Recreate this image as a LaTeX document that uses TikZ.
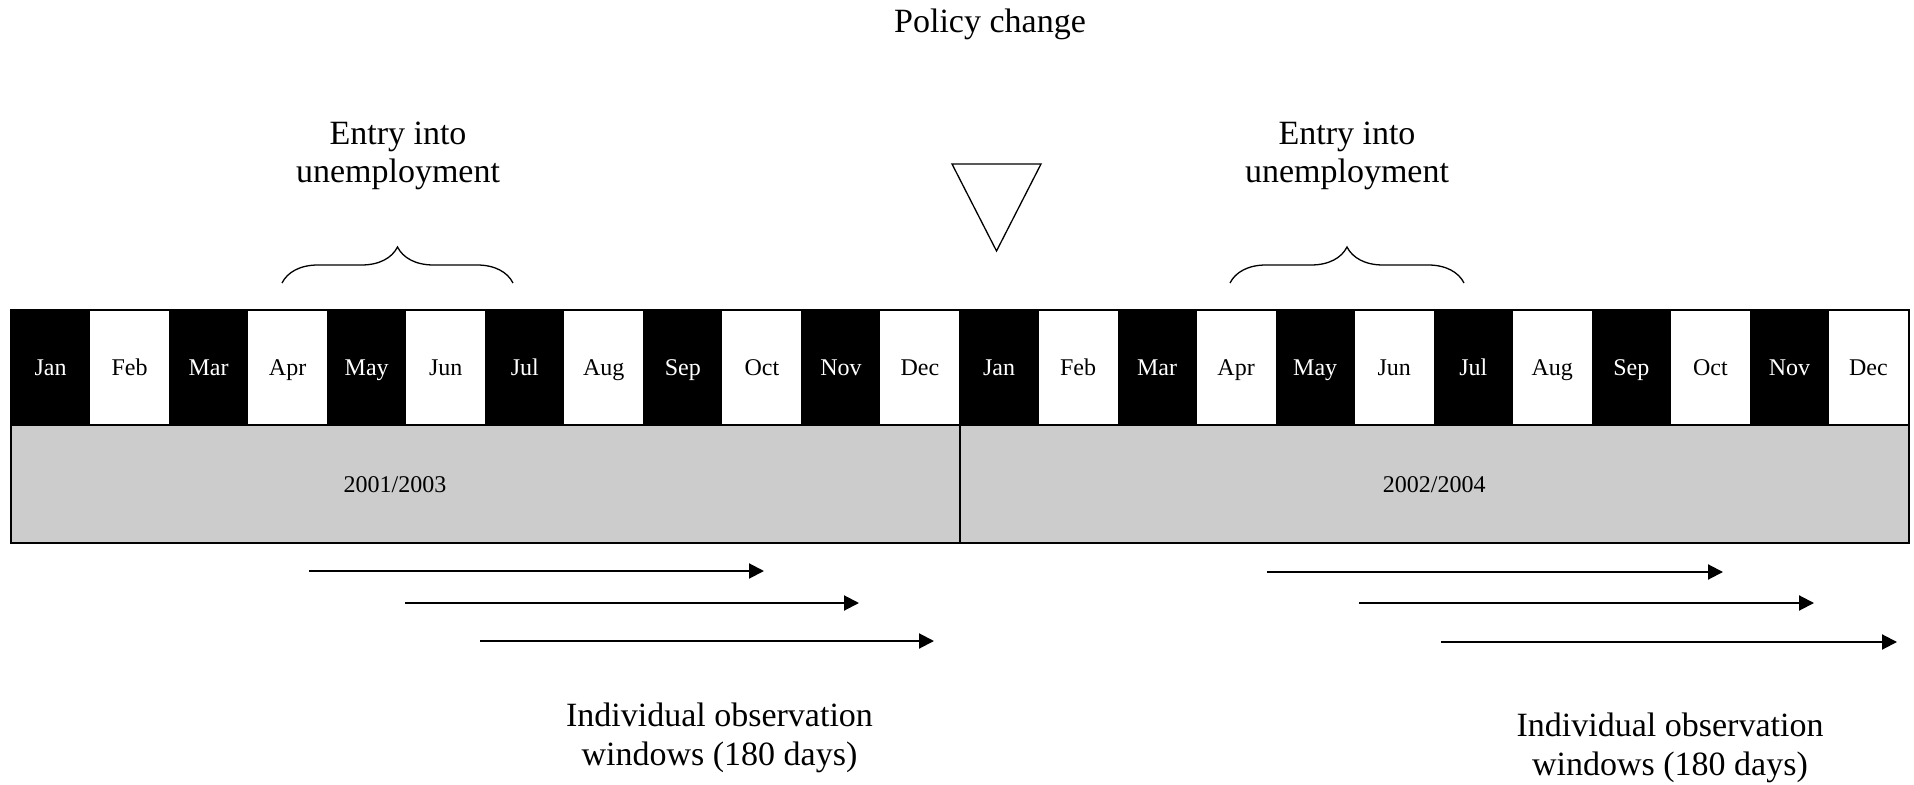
\documentclass[tikz,border=0pt]{standalone}
\usepackage{fontspec}
\setmainfont{Liberation Serif}
\usetikzlibrary{arrows.meta,decorations.pathreplacing}

\tikzset{
	month/.style={minimum width=39.52pt, minimum height=57.5pt, inner sep=0pt, outer sep=0pt,
		text height=8.5pt, text depth=0pt, font=\fontsize{12}{14}\selectfont},
	yearbox/.style={minimum height=59pt, inner sep=0pt, outer sep=0pt, fill=gray!40},
	yeartext/.style={inner sep=0pt, text height=8.5pt, text depth=0pt, font=\fontsize{12}{14}\selectfont},
	headtext/.style={align=center, inner sep=0pt, font=\fontsize{17}{19.25}\selectfont},
	window/.style={-{Triangle[length=7.5pt,width=7.5pt]}, line width=1pt},
	curly/.style={decorate, decoration={brace, amplitude=18pt}, line width=0.65pt},
}

\begin{document}
\begin{tikzpicture}[x=0.5pt,y=-0.5pt]
		\useasboundingbox (0,0) rectangle (1914,785);
		% months of the two years
		\foreach \m [count=\i from 0] in {Jan,Feb,Mar,Apr,May,Jun,Jul,Aug,Sep,Oct,Nov,Dec,
			Jan,Feb,Mar,Apr,May,Jun,Jul,Aug,Sep,Oct,Nov,Dec} {
			\pgfmathsetmacro\cx{11+79.04*(\i+0.5)}
			\ifodd\i \def\cellc{white}\def\textc{black}\else \def\cellc{black}\def\textc{white}\fi
			\node[month, fill=\cellc, text=\textc] (m\i) at (\cx,367.5) {\m};
		}
		% years
		\node[yearbox, minimum width=474.5pt] (y1) at (485.5,484) {};
		\node[yearbox, minimum width=474.25pt] (y2) at (1434.25,484) {};
		\node[yeartext] (t1) at (395,484) {2001/2003};
		\node[yeartext] (t2) at (y2) {2002/2004};
		%
		\draw[line width=1pt] (m0.north west) rectangle (y2.south east);
		\draw[line width=1pt] (y1.north west) -- (y2.north east);
		\draw[line width=1pt] (y1.north east) -- (y1.south east);
		% policy change
		\node[headtext, anchor=base] (policy) at (990,33) {Policy change};
		\draw[line width=0.65pt] (952,164) -- (1041,164) -- (996.5,251) -- cycle;
		% entry into unemployment
		\node[headtext] (entry1) at (398,156) {Entry into\\unemployment};
		\node[headtext] (entry2) at (1347,156) {Entry into\\unemployment};
		\draw[curly] (282,283) -- (513,283);
		\draw[curly] (1230,283) -- (1464,283);
		% observation windows
		\coordinate (w1a) at (309,571);
		\coordinate (w1b) at (764,571);
		\coordinate (w2a) at (405,603);
		\coordinate (w2b) at (859,603);
		\coordinate (w3a) at (480,641);
		\coordinate (w3b) at (934,641);
		\coordinate (v1a) at (1267,572);
		\coordinate (v1b) at (1723,572);
		\coordinate (v2a) at (1359,603);
		\coordinate (v2b) at (1814,603);
		\coordinate (v3a) at (1441,642);
		\coordinate (v3b) at (1897,642);
		\path[window]
		% first year
		(w1a) edge (w1b)
		(w2a) edge (w2b)
		(w3a) edge (w3b)
		% second year
		(v1a) edge (v1b)
		(v2a) edge (v2b)
		(v3a) edge (v3b);
		%
		\node[headtext] (obs1) at (719.5,738) {Individual observation\\windows (180 days)};
		\node[headtext] (obs2) at (1670,748) {Individual observation\\windows (180 days)};
	\end{tikzpicture}
\end{document}
